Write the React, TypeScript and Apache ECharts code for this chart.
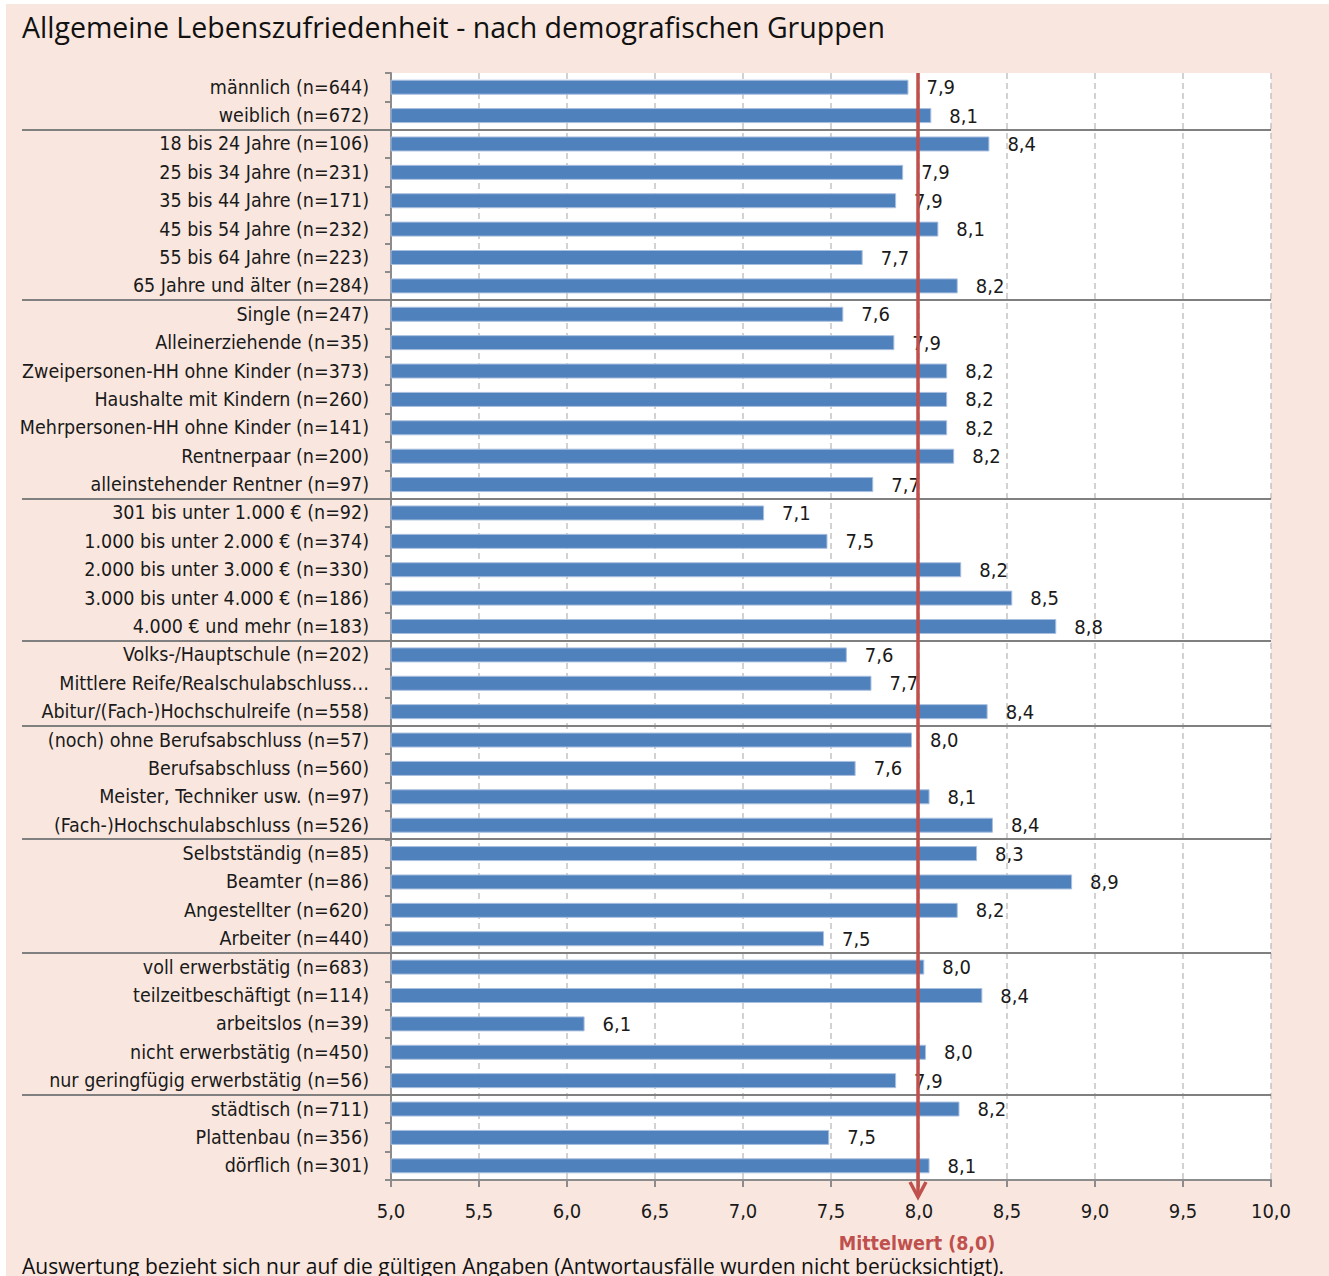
import React, { useEffect, useRef } from "react";
import * as echarts from "echarts";

const categories = [
  "männlich (n=644)",
  "weiblich (n=672)",
  "18 bis 24 Jahre (n=106)",
  "25 bis 34 Jahre (n=231)",
  "35 bis 44 Jahre (n=171)",
  "45 bis 54 Jahre (n=232)",
  "55 bis 64 Jahre (n=223)",
  "65 Jahre und älter (n=284)",
  "Single (n=247)",
  "Alleinerziehende (n=35)",
  "Zweipersonen-HH ohne Kinder (n=373)",
  "Haushalte mit Kindern (n=260)",
  "Mehrpersonen-HH ohne Kinder (n=141)",
  "Rentnerpaar (n=200)",
  "alleinstehender Rentner (n=97)",
  "301 bis unter 1.000 € (n=92)",
  "1.000 bis unter 2.000 € (n=374)",
  "2.000 bis unter 3.000 € (n=330)",
  "3.000 bis unter 4.000 € (n=186)",
  "4.000 € und mehr (n=183)",
  "Volks-/Hauptschule (n=202)",
  "Mittlere Reife/Realschulabschluss…",
  "Abitur/(Fach-)Hochschulreife (n=558)",
  "(noch) ohne Berufsabschluss (n=57)",
  "Berufsabschluss (n=560)",
  "Meister, Techniker usw. (n=97)",
  "(Fach-)Hochschulabschluss (n=526)",
  "Selbstständig (n=85)",
  "Beamter (n=86)",
  "Angestellter (n=620)",
  "Arbeiter (n=440)",
  "voll erwerbstätig (n=683)",
  "teilzeitbeschäftigt (n=114)",
  "arbeitslos (n=39)",
  "nicht erwerbstätig (n=450)",
  "nur geringfügig erwerbstätig (n=56)",
  "städtisch (n=711)",
  "Plattenbau (n=356)",
  "dörflich (n=301)",
];

const values = [
  7.94, 8.07, 8.4, 7.91, 7.87, 8.11, 7.68, 8.22, 7.57, 7.86, 8.16, 8.16, 8.16,
  8.2, 7.74, 7.12, 7.48, 8.24, 8.53, 8.78, 7.59, 7.73, 8.39, 7.96, 7.64, 8.06,
  8.42, 8.33, 8.87, 8.22, 7.46, 8.03, 8.36, 6.1, 8.04, 7.87, 8.23, 7.49, 8.06,
];

// index of the last category of each group (a separator is drawn below it)
const groupEnds = [1, 7, 14, 19, 22, 26, 30, 35];

const meanValue = 8.0;
const meanLabel = "Mittelwert (8,0)";
const titleText = "Allgemeine Lebenszufriedenheit - nach demografischen Gruppen";
const footnote =
  "Auswertung bezieht sich nur auf die gültigen Angaben (Antwortausfälle wurden nicht berücksichtigt).";

const condensed = "'DejaVu Sans Condensed', 'Liberation Sans Narrow', sans-serif";
const humanist = "'Open Sans', 'Noto Sans', sans-serif";
const fmt = (v: number) => v.toFixed(1).replace(".", ",");

export default function App() {
  const ref = useRef<HTMLDivElement>(null);
  useEffect(() => {
    if (!ref.current) return;
    const chart = echarts.init(ref.current, undefined, { renderer: "svg" });
    const gridLeft = 385;
    const gridRight = 58;
    const gridTop = 69;
    const gridBottom = 96;
    chart.setOption({
      animation: false,
      backgroundColor: "#f9e7df",
      textStyle: { fontFamily: condensed },
      title: {
        text: titleText,
        left: 11,
        top: 3,
        textStyle: {
          fontFamily: humanist,
          fontSize: 28.5,
          fontWeight: "normal",
          color: "#111",
        },
      },
      grid: {
        left: gridLeft,
        right: gridRight,
        top: gridTop,
        bottom: gridBottom,
        outerBoundsMode: "none",
        containLabel: false,
        show: true,
        backgroundColor: "#ffffff",
        borderWidth: 0,
      },
      xAxis: {
        type: "value",
        min: 5,
        max: 10,
        interval: 0.5,
        axisLine: { show: true, lineStyle: { color: "#8c8c8c", width: 2 } },
        axisTick: { show: true, length: 7, lineStyle: { color: "#8c8c8c", width: 2 } },
        axisLabel: {
          margin: 21,
          fontSize: 20,
          color: "#1a1a1a",
          fontFamily: condensed,
          formatter: (v: number) => fmt(v),
        },
        splitLine: {
          show: true,
          lineStyle: { color: "#c4c4c4", type: [6, 4], width: 1.5 },
        },
      },
      yAxis: {
        type: "category",
        data: categories,
        inverse: true,
        axisLine: { show: true, lineStyle: { color: "#8c8c8c", width: 2 } },
        axisTick: { show: true, length: 6, lineStyle: { color: "#8c8c8c", width: 2 } },
        axisLabel: {
          interval: 0,
          margin: 22,
          fontSize: 19.5,
          color: "#1a1a1a",
          fontFamily: condensed,
        },
      },
      series: [
        {
          type: "bar",
          data: values,
          barWidth: 15,
          itemStyle: { color: "#4f81bd", borderColor: "#a9bfdf", borderWidth: 1 },
          label: {
            show: true,
            position: "right",
            distance: 18,
            fontSize: 20,
            color: "#1a1a1a",
            fontFamily: condensed,
            formatter: (p: any) => fmt(p.value),
          },
        },
      ],
    });

    const h = ref.current.clientHeight;
    const meanX = chart.convertToPixel({ xAxisIndex: 0 }, meanValue) as number;
    const rightX = chart.convertToPixel({ xAxisIndex: 0 }, 10) as number;
    const yOf = (i: number) => chart.convertToPixel({ yAxisIndex: 0 }, categories[i]) as number;
    const plotTop = gridTop;
    const plotBottom = h - gridBottom;
    const tipY = plotBottom + 17;
    const red = "#c0504d";

    const graphics: any[] = groupEnds.map((i) => {
      const y = Math.round((yOf(i) + yOf(i + 1)) / 2);
      return {
        type: "line",
        z: 50,
        shape: { x1: 16, y1: y, x2: rightX, y2: y },
        style: { stroke: "#808080", lineWidth: 2 },
      };
    });
    graphics.push(
      {
        type: "line",
        z: 60,
        shape: { x1: meanX - 1, y1: plotTop, x2: meanX - 1, y2: tipY - 1 },
        style: { stroke: red, lineWidth: 3.5 },
      },
      {
        type: "polyline",
        z: 60,
        shape: {
          points: [
            [meanX - 9, tipY - 15],
            [meanX - 1, tipY],
            [meanX + 7, tipY - 15],
          ],
        },
        style: { stroke: red, lineWidth: 3.5, fill: null },
      },
      {
        type: "text",
        z: 60,
        x: meanX - 2,
        y: plotBottom + 63,
        style: {
          text: meanLabel,
          fill: red,
          font: `bold 19.5px ${condensed}`,
          textAlign: "center",
          textVerticalAlign: "middle",
        },
      },
      {
        type: "text",
        z: 60,
        x: 16,
        y: h - 10,
        style: {
          text: footnote,
          fill: "#111",
          font: `21px ${humanist}`,
          textAlign: "left",
          textVerticalAlign: "middle",
        },
      }
    );
    chart.setOption({ graphic: graphics });

    return () => chart.dispose();
  }, []);

  return (
    <div
      ref={ref}
      style={{ position: "absolute", left: 6, top: 4, width: 1323, height: 1272 }}
    />
  );
}
